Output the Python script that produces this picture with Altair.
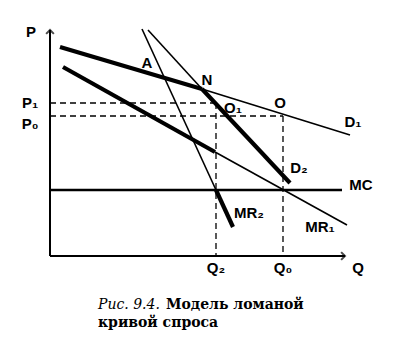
import altair as alt
import pandas as pd

# ---- data (economic units: Q horizontal, P vertical) ----
d1_q = [1.0, 15.2, 30.0]
d1_p = [20.9, 16.7, 12.1]
d2_q = [9.8, 15.2, 24.0]
d2_p = [22.6, 16.7, 7.3]
mr1_q = [1.3, 16.5, 29.7]
mr1_p = [18.9, 10.4, 3.1]
mr2_q = [9.2, 16.6, 18.3]
mr2_p = [22.7, 6.6, 2.9]
mc_p = 6.6
mc_q_end = 29.2
p1, p0 = 15.3, 14.0
q2, q0 = 16.6, 23.3
q_max, p_max = 29.5, 22.6

label_text = ["P", "P\u2081", "P\u2080", "A", "N", "O\u2081", "O", "D\u2081", "D\u2082",
              "MC", "MR\u2082", "MR\u2081", "Q\u2082", "Q\u2080", "Q"]
label_q = [-1.9, -2.0, -2.0, 9.7, 15.7, 18.3, 23.0, 30.3, 24.9, 31.1, 19.9, 27.0, 16.6, 23.3, 30.8]
label_p = [22.4, 15.3, 13.2, 19.3, 17.6, 14.8, 15.3, 13.4, 8.8, 7.1, 4.3, 2.9, -1.2, -1.2, -1.2]

W, H = 395, 337
xs = alt.Scale(domain=[-5.0, 34.5], range=[0, W])
ys = alt.Scale(domain=[-8.1, 25.6], range=[H, 0])

# segments: (q1, p1, q2, p2, width)
segs = []
def add(qs, ps, widths):
    for i in range(len(qs) - 1):
        segs.append(dict(q=qs[i], p=ps[i], qe=qs[i + 1], pe=ps[i + 1], w=widths[i]))

add(d1_q, d1_p, [4.2, 1.6])
add(d2_q, d2_p, [1.6, 4.2])
add(mr1_q, mr1_p, [4.2, 1.6])
add(mr2_q, mr2_p, [1.6, 4.2])
add([0, mc_q_end], [mc_p, mc_p], [2.4])
add([0, q_max], [0, 0], [2.0])
add([0, 0], [0, p_max], [2.0])
seg_df = pd.DataFrame(segs)

lines = alt.Chart(seg_df).mark_rule(color="black", strokeCap="butt").encode(
    x=alt.X("q:Q", scale=xs, axis=None),
    y=alt.Y("p:Q", scale=ys, axis=None),
    x2="qe:Q", y2="pe:Q",
    strokeWidth=alt.StrokeWidth("w:Q", scale=None),
)

dash_df = pd.DataFrame([
    dict(q=0, p=p1, qe=q2, pe=p1),
    dict(q=q2, p=p1, qe=q2, pe=0),
    dict(q=0, p=p0, qe=q0, pe=p0),
    dict(q=q0, p=p0, qe=q0, pe=0),
])
dashes = alt.Chart(dash_df).mark_rule(color="black", strokeDash=[6, 4], strokeWidth=1.3).encode(
    x=alt.X("q:Q", scale=xs, axis=None), y=alt.Y("p:Q", scale=ys, axis=None),
    x2="qe:Q", y2="pe:Q")

arrow_up = alt.Chart(pd.DataFrame({"q": [0], "p": [p_max]})).mark_point(
    shape="M-1,1L0,0L1,1", filled=False, color="black", strokeWidth=2, size=60
).encode(x=alt.X("q:Q", scale=xs, axis=None), y=alt.Y("p:Q", scale=ys, axis=None))
arrow_right = alt.Chart(pd.DataFrame({"q": [q_max], "p": [0]})).mark_point(
    shape="M-1,-1L0,0L-1,1", filled=False, color="black", strokeWidth=2, size=60
).encode(x=alt.X("q:Q", scale=xs, axis=None), y=alt.Y("p:Q", scale=ys, axis=None))

lab_df = pd.DataFrame({"t": label_text, "q": label_q, "p": label_p})
labels = alt.Chart(lab_df).mark_text(
    font="Liberation Sans", fontWeight="bold", fontSize=15, color="black",
    align="center", baseline="middle"
).encode(x=alt.X("q:Q", scale=xs, axis=None), y=alt.Y("p:Q", scale=ys, axis=None), text="t:N")

cap_df = pd.DataFrame({"t": [0]})
cap1 = alt.Chart(cap_df).mark_text(
    text="Рис. 9.4.", font="DejaVu Serif", fontStyle="italic", fontSize=14,
    align="left", baseline="alphabetic", color="black"
).encode(x=alt.value(98), y=alt.value(309))
cap2 = alt.Chart(cap_df).mark_text(
    text="Модель ломаной", font="DejaVu Serif", fontWeight="bold", fontSize=14,
    align="left", baseline="alphabetic", color="black"
).encode(x=alt.value(166), y=alt.value(309))
cap3 = alt.Chart(cap_df).mark_text(
    text="кривой спроса", font="DejaVu Serif", fontWeight="bold", fontSize=14,
    align="left", baseline="alphabetic", color="black"
).encode(x=alt.value(98), y=alt.value(327))

chart = alt.layer(dashes, lines, arrow_up, arrow_right, labels, cap1, cap2, cap3).properties(
    width=W, height=H, padding=0, autosize=alt.AutoSizeParams(type="none"),
    background="white"
).configure_view(stroke=None)

chart.save("out.html", embed_options={"renderer": "svg", "actions": False})
